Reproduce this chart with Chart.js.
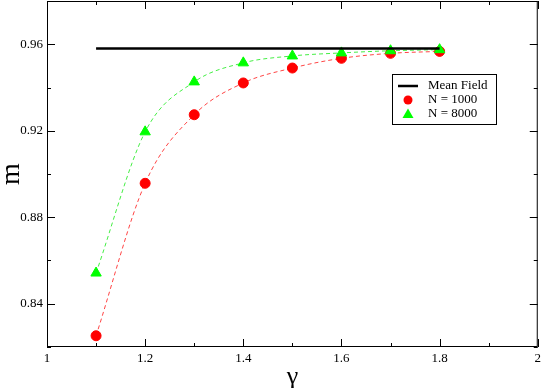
<!DOCTYPE html>
<html lang="en">
<head>
    <meta charset="UTF-8">
    <title>m vs gamma</title>
    <script src="https://cdn.jsdelivr.net/npm/chart.js"></script>
    <style>
        html, body { margin: 0; padding: 0; background: #fff; }
        #wrap { width: 545px; height: 388px; }
    </style>
</head>
<body>
<div id="wrap"><canvas id="mChart"></canvas></div>
<script>
// gamma values and magnetisation for the two system sizes
const gammas = [1.1, 1.2, 1.3, 1.4, 1.5, 1.6, 1.7, 1.8];
const mN1000 = [0.8252, 0.8957, 0.9274, 0.9421, 0.9490, 0.9535, 0.9558, 0.9567];
const mN8000 = [0.8542, 0.9195, 0.9426, 0.9514, 0.9546, 0.9560, 0.9570, 0.9575];
const meanFieldX = [1.1, 1.8];
const meanFieldM = [0.958, 0.958];

const legendItems = ['Mean Field', 'N = 1000', 'N = 8000'];

const serif = '"Liberation Serif", "DejaVu Serif", serif';

function pts(xs, ys) {
    return xs.map((x, i) => ({ x: x, y: ys[i] }));
}

// frame + inward ticks on all four sides, like xmgrace
const framePlugin = {
    id: 'frame',
    afterDraw(chart) {
        const ctx = chart.ctx;
        const a = chart.chartArea;
        const xs = chart.scales.x, ys = chart.scales.y;
        ctx.save();
        ctx.strokeStyle = '#000';
        ctx.lineWidth = 1;
        ctx.strokeRect(a.left + 0.5, a.top + 0.5, a.right - a.left - 1, a.bottom - a.top - 1);
        ctx.beginPath();
        for (let i = 0; i <= 10; i++) {
            const v = 1 + i * 0.1;
            const len = i % 2 === 0 ? 8 : 4;
            const px = Math.round(xs.getPixelForValue(v)) + 0.5;
            ctx.moveTo(px, a.bottom); ctx.lineTo(px, a.bottom - len);
            ctx.moveTo(px, a.top); ctx.lineTo(px, a.top + len);
        }
        for (let i = 0; i <= 8; i++) {
            const v = 0.82 + i * 0.02;
            const len = i % 2 === 1 ? 8 : 4;
            const py = Math.round(ys.getPixelForValue(v)) + 0.5;
            ctx.moveTo(a.left, py); ctx.lineTo(a.left + len, py);
            ctx.moveTo(a.right, py); ctx.lineTo(a.right - len, py);
        }
        ctx.stroke();

        // legend box
        const bx = 392, by = 74, bw = 104, bh = 50;
        ctx.fillStyle = '#fff';
        ctx.fillRect(bx, by, bw, bh);
        ctx.strokeRect(bx + 0.5, by + 0.5, bw, bh);
        ctx.font = '13px ' + serif;
        ctx.textBaseline = 'middle';
        ctx.fillStyle = '#000';
        const rows = [86, 100, 114];
        legendItems.forEach((t, i) => ctx.fillText(t, 428, rows[i]));
        ctx.lineWidth = 2.5;
        ctx.beginPath();
        ctx.moveTo(398, rows[0]); ctx.lineTo(418, rows[0]);
        ctx.stroke();
        ctx.fillStyle = '#ff0000';
        ctx.beginPath();
        ctx.arc(408, rows[1], 4.5, 0, Math.PI * 2);
        ctx.fill();
        ctx.fillStyle = '#00ff00';
        ctx.beginPath();
        ctx.moveTo(408, rows[2] - 5.5);
        ctx.lineTo(413.5, rows[2] + 4);
        ctx.lineTo(402.5, rows[2] + 4);
        ctx.closePath();
        ctx.fill();
        ctx.restore();
    }
};

new Chart(document.getElementById('mChart'), {
    type: 'scatter',
    data: {
        datasets: [
            {
                label: 'Mean Field',
                data: pts(meanFieldX, meanFieldM),
                showLine: true,
                borderColor: '#000',
                borderWidth: 2.5,
                pointRadius: 0
            },
            {
                label: 'N = 8000',
                data: pts(gammas, mN8000),
                showLine: true,
                cubicInterpolationMode: 'monotone',
                borderColor: '#44ee44',
                borderWidth: 1,
                borderDash: [4, 3],
                pointStyle: 'triangle',
                pointRadius: 6,
                pointBackgroundColor: '#00ff00',
                pointBorderColor: '#00ff00'
            },
            {
                label: 'N = 1000',
                data: pts(gammas, mN1000),
                showLine: true,
                cubicInterpolationMode: 'monotone',
                borderColor: '#ff4444',
                borderWidth: 1,
                borderDash: [4, 3],
                pointStyle: 'circle',
                pointRadius: 5,
                pointBackgroundColor: '#ff0000',
                pointBorderColor: '#ff0000'
            }
        ]
    },
    options: {
        responsive: true,
        maintainAspectRatio: false,
        animation: false,
        layout: { autoPadding: false, padding: { top: 1, right: 5, left: 0, bottom: 0 } },
        plugins: {
            legend: { display: false },
            tooltip: { enabled: false }
        },
        scales: {
            x: {
                type: 'linear',
                min: 1,
                max: 2,
                grid: { display: false, drawTicks: false },
                border: { display: false },
                afterFit(s) { s.height = 41; },
                ticks: {
                    stepSize: 0.1,
                    autoSkip: false,
                    maxRotation: 0,
                    padding: 4,
                    color: '#000',
                    font: { family: serif, size: 13 },
                    callback: v => Math.round(v * 10) % 2 === 0 ? String(+v.toFixed(1)) : null
                },
                title: {
                    display: true,
                    text: 'γ',
                    color: '#000',
                    padding: 0,
                    font: { family: serif, size: 26, lineHeight: 0.85 }
                }
            },
            y: {
                min: 0.82,
                max: 0.98,
                grid: { display: false, drawTicks: false },
                border: { display: false },
                afterFit(s) { s.width = 47; s.paddingTop = 0; },
                ticks: {
                    stepSize: 0.02,
                    autoSkip: false,
                    padding: 4,
                    color: '#000',
                    font: { family: serif, size: 13 },
                    callback: v => Math.round(v * 100) % 4 === 0 ? v.toFixed(2) : null
                },
                title: {
                    display: true,
                    text: 'm',
                    color: '#000',
                    padding: 0,
                    font: { family: serif, size: 28, lineHeight: 0.85 }
                }
            }
        }
    },
    plugins: [framePlugin]
});
</script>
</body>
</html>
